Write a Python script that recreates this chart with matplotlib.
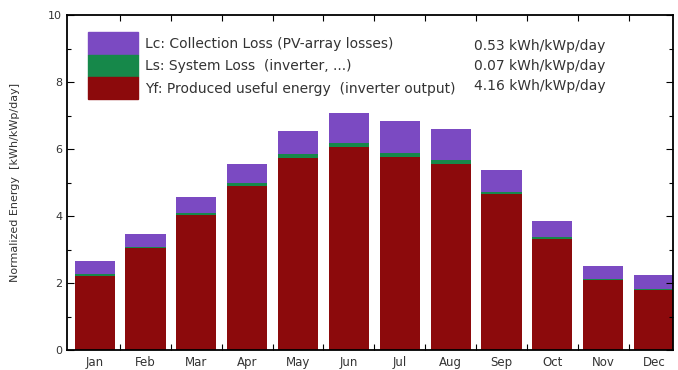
import numpy as np
import matplotlib
matplotlib.use('Agg')
import matplotlib.pyplot as plt
from matplotlib.patches import Patch
from matplotlib.ticker import MultipleLocator

plt.rcParams['font.family'] = ['DejaVu Sans']

# monthly normalized energies [kWh/kWp/day]
months = ['Jan', 'Feb', 'Mar', 'Apr', 'May', 'Jun', 'Jul', 'Aug', 'Sep', 'Oct', 'Nov', 'Dec']
yf = [2.22, 3.05, 4.03, 4.90, 5.72, 6.07, 5.77, 5.57, 4.65, 3.33, 2.09, 1.79]   # produced useful energy
ls = [0.04, 0.04, 0.06, 0.08, 0.12, 0.12, 0.10, 0.10, 0.07, 0.05, 0.04, 0.04]   # system loss
lc = [0.40, 0.36, 0.49, 0.57, 0.71, 0.89, 0.98, 0.92, 0.65, 0.47, 0.39, 0.41]   # collection loss

labels = ['Lc: Collection Loss (PV-array losses)',
          'Ls: System Loss  (inverter, ...)',
          'Yf: Produced useful energy  (inverter output)']
values = ['0.53 kWh/kWp/day', '0.07 kWh/kWp/day', '4.16 kWh/kWp/day']

c_red = '#8c0a0c'
c_green = '#16884a'
c_purple = '#7b4ac2'
txt = '#333333'

fig = plt.figure(figsize=(6.78, 3.70), dpi=100)
ax = fig.add_axes([0.099, 0.054, 0.894, 0.905])

x = np.arange(len(months))
w = 0.79
yf = np.array(yf)
ls = np.array(ls)
lc = np.array(lc)
ax.bar(x, yf, w, color=c_red, linewidth=0)
ax.bar(x, ls, w, bottom=yf, color=c_green, linewidth=0)
ax.bar(x, lc, w, bottom=yf + ls, color=c_purple, linewidth=0)

ax.set_xlim(-0.543, 11.38)
ax.set_ylim(0, 10)

# month boundaries as ticks, labels in the middle
ax.set_xticks(x[1:] - 0.5)
ax.set_xticklabels([])
ax.set_xticks(x, minor=True)
ax.set_xticklabels(months, minor=True, fontsize=8.5, color=txt)
ax.tick_params(axis='x', which='major', direction='in', length=4, top=True, width=0.8)
ax.tick_params(axis='x', which='minor', length=0, pad=4)

ax.yaxis.set_major_locator(MultipleLocator(2))
ax.yaxis.set_minor_locator(MultipleLocator(1))
ax.tick_params(axis='y', which='major', direction='in', length=5, right=True,
               labelsize=8, labelcolor=txt, width=0.8)
ax.tick_params(axis='y', which='minor', direction='in', length=3, right=True, width=0.8)
ax.set_ylabel('Normalized Energy  [kWh/kWp/day]', fontsize=8, color=txt)
ax.yaxis.set_label_coords(-0.078, 0.5)

for s in ax.spines.values():
    s.set_linewidth(1.3)

handles = [Patch(color=c_purple), Patch(color=c_green), Patch(color=c_red)]
leg = ax.legend(handles, labels, loc='upper left', bbox_to_anchor=(0.035, 0.949),
                frameon=False, fontsize=10, handlelength=3.6, handleheight=2.1,
                labelspacing=0, borderpad=0, borderaxespad=0, handletextpad=0.5)
for t in leg.get_texts():
    t.set_color(txt)

for i, v in enumerate(values):
    ax.text(0.672, 0.907 - i * 0.06, v, transform=ax.transAxes,
            fontsize=10, va='center', ha='left', color=txt)

fig.savefig('out.png', dpi=100)
